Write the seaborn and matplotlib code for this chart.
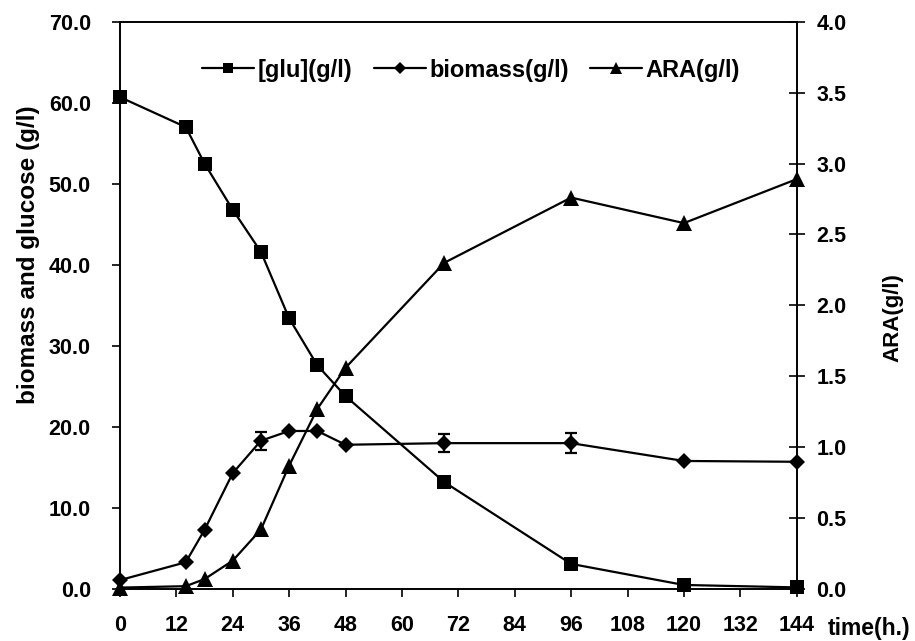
import numpy as np
import pandas as pd
import matplotlib
matplotlib.use("Agg")
import matplotlib.pyplot as plt
import seaborn as sns

time_h = [0, 14, 18, 24, 30, 36, 42, 48, 69, 96, 120, 144]
glucose = [60.7, 57.0, 52.5, 46.8, 41.6, 33.4, 27.6, 23.8, 13.2, 3.1, 0.5, 0.2]
biomass = [1.1, 3.3, 7.3, 14.3, 18.3, 19.5, 19.5, 17.8, 18.0, 18.0, 15.8, 15.7]
biomass_err = [0, 0, 0, 0, 1.1, 0, 0, 0, 1.1, 1.2, 0, 0]
ara = [0.01, 0.02, 0.07, 0.20, 0.42, 0.87, 1.27, 1.56, 2.30, 2.76, 2.58, 2.89]

x_ticks = list(range(0, 145, 12))
left_ticks = [0, 10, 20, 30, 40, 50, 60, 70]
right_ticks = [0, 0.5, 1.0, 1.5, 2.0, 2.5, 3.0, 3.5, 4.0]

sns.set_theme(style="ticks")
plt.rcParams["font.family"] = ["Liberation Sans", "DejaVu Sans"]
plt.rcParams["font.weight"] = "bold"
plt.rcParams["text.color"] = "black"
plt.rcParams["axes.labelcolor"] = "black"

df = pd.DataFrame({
    "time": time_h,
    "glucose": glucose,
    "biomass": biomass,
    "err": biomass_err,
    "ara": ara,
})

fig = plt.figure(figsize=(9.15, 6.41), dpi=100)
ax = fig.add_axes([0.1311, 0.0811, 0.7396, 0.885])
ax2 = ax.twinx()

lw = 1.6
sns.lineplot(data=df, x="time", y="glucose", ax=ax, color="black", lw=lw,
             marker="s", markersize=9.5, markeredgewidth=0, label="[glu](g/l)",
             legend=False, clip_on=False, zorder=3)
sns.lineplot(data=df, x="time", y="biomass", ax=ax, color="black", lw=lw,
             marker="D", markersize=8, markeredgewidth=0, label="biomass(g/l)",
             legend=False, clip_on=False, zorder=3)
ax.errorbar(df["time"], df["biomass"], yerr=df["err"], fmt="none",
            ecolor="black", elinewidth=1.6, capsize=4, capthick=1.6, zorder=3)
sns.lineplot(data=df, x="time", y="ara", ax=ax2, color="black", lw=lw,
             marker="^", markersize=11, markeredgewidth=0, label="ARA(g/l)",
             legend=False, clip_on=False, zorder=3)

ax.set_xlim(0, 144)
ax.set_ylim(0, 70)
ax2.set_ylim(0, 4)
ax.set_xticks(x_ticks)
ax.set_xticklabels([str(t) for t in x_ticks])
ax.set_yticks(left_ticks)
ax.set_yticklabels([f"{v:.1f}" for v in left_ticks])
ax2.set_yticks(right_ticks)
ax2.set_yticklabels([f"{v:.1f}" for v in right_ticks])

ax.set_xlabel("")
ax.set_ylabel("biomass and glucose (g/l)", fontsize=17.5, fontweight="bold",
              color="black")
ax.yaxis.set_label_coords(-0.118, 0.59)
ax2.set_ylabel("ARA(g/l)", fontsize=16, fontweight="bold", rotation=90,
               color="black")
ax2.yaxis.set_label_coords(1.126, 0.478)

for a in (ax, ax2):
    for s in a.spines.values():
        s.set_color("black")
        s.set_linewidth(1.2)

ax.tick_params(axis="x", direction="out", length=6, width=1.2, pad=13,
               labelsize=15.5, colors="black")
ax.tick_params(axis="y", direction="out", length=6, width=1.2, pad=15,
               labelsize=15.5, colors="black")
ax2.tick_params(axis="y", direction="inout", length=12, width=1.2, pad=8,
                labelsize=15.5, colors="black")
for lab in ax.get_xticklabels() + ax.get_yticklabels() + ax2.get_yticklabels():
    lab.set_fontweight("bold")

fig.text(828 / 915, 1 - 628 / 641, "time(h.)", ha="left", va="center",
         fontsize=16.5, fontweight="bold", color="black")

h1, l1 = ax.get_legend_handles_labels()
h2, l2 = ax2.get_legend_handles_labels()
leg = fig.legend(h1 + h2, l1 + l2, loc="center", ncol=3, frameon=False,
                 bbox_to_anchor=(471 / 915, 1 - 70 / 641),
                 prop={"size": 17, "weight": "bold"}, handlelength=2.2,
                 handletextpad=0.15, columnspacing=0.9, markerscale=0.75)
for t in leg.get_texts():
    t.set_color("black")

fig.savefig("out.png", dpi=100)
